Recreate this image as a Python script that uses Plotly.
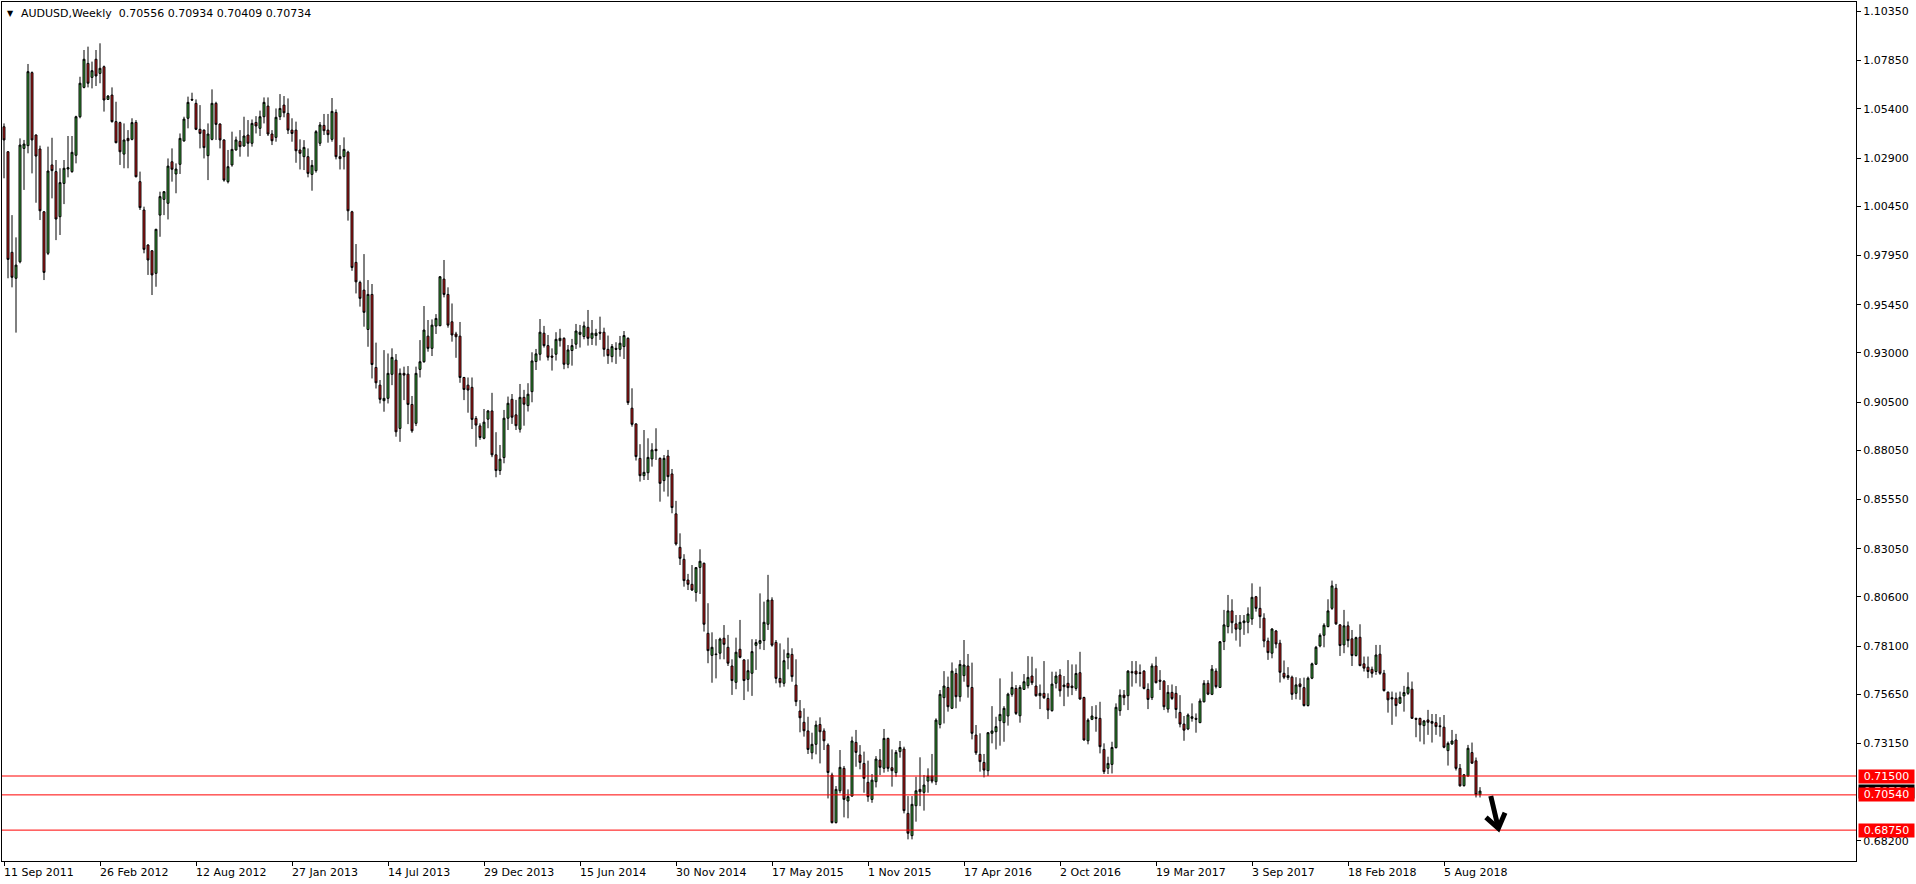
import plotly.graph_objects as go
import pandas as pd

# ---------------- data (AUDUSD weekly) ----------------
first_week = "2011-09-11"
opens = [1.0449,1.0322,0.9811,0.9679,0.9763,1.0339,1.0353,1.0724,1.0407,1.0336,
1.0017,0.9806,1.0255,1.0221,0.9992,1.0161,1.0234,1.0221,1.0304,1.0500,
1.0649,1.0771,1.0700,1.0792,1.0720,1.0754,1.0588,1.0610,1.0475,1.0470,
1.0310,1.0390,1.0385,1.0471,1.0170,1.0026,0.9848,0.9819,0.9704,1.0000,
1.0080,1.0060,1.0271,1.0209,1.0258,1.0377,1.0492,1.0588,1.0568,1.0436,
1.0432,1.0302,1.0385,1.0568,1.0463,1.0382,1.0170,1.0255,1.0331,1.0375,
1.0351,1.0407,1.0365,1.0471,1.0441,1.0500,1.0554,1.0412,1.0395,1.0500,
1.0559,1.0517,1.0432,1.0432,1.0331,1.0297,1.0297,1.0207,1.0226,1.0365,
1.0456,1.0432,1.0385,1.0522,1.0297,1.0297,1.0320,1.0017,0.9760,0.9658,
0.9619,0.9419,0.9597,0.9226,0.9136,0.9057,0.9069,0.9191,0.9263,0.8916,
0.9196,0.9192,0.9038,0.8942,0.9216,0.9255,0.9385,0.9323,0.9436,0.9438,
0.9675,0.9597,0.9458,0.9396,0.9385,0.9175,0.9136,0.9125,0.8967,0.8929,
0.8866,0.8963,0.9005,0.8782,0.8702,0.8768,0.8968,0.9064,0.8985,0.8912,
0.9074,0.9032,0.9103,0.9256,0.9293,0.9400,0.9337,0.9284,0.9293,0.9362,
0.9374,0.9242,0.9312,0.9344,0.9394,0.9383,0.9430,0.9374,0.9388,0.9405,
0.9405,0.9318,0.9281,0.9323,0.9318,0.9332,0.9374,0.9019,0.8939,0.8764,
0.8676,0.8691,0.8761,0.8810,0.8764,0.8651,0.8776,0.8685,0.8482,0.8312,
0.8251,0.8146,0.8124,0.8083,0.8210,0.8231,0.7875,0.7763,0.7770,0.7774,
0.7850,0.7804,0.7709,0.7626,0.7794,0.7740,0.7641,0.7672,0.7814,0.7824,
0.7838,0.7921,0.8044,0.7829,0.7646,0.7621,0.7751,0.7768,0.7612,0.7480,
0.7423,0.7379,0.7268,0.7311,0.7412,0.7379,0.7307,0.7155,0.6913,0.7075,
0.7189,0.7023,0.7048,0.7321,0.7257,0.7214,0.7118,0.7031,0.7121,0.7231,
0.7189,0.7341,0.7192,0.7167,0.7274,0.7287,0.6960,0.6847,0.6999,0.7082,
0.7067,0.7124,0.7150,0.7121,0.7412,0.7548,0.7600,0.7494,0.7671,0.7553,
0.7660,0.7709,0.7600,0.7358,0.7260,0.7219,0.7177,0.7367,0.7375,0.7431,
0.7421,0.7455,0.7565,0.7595,0.7456,0.7590,0.7609,0.7658,0.7607,0.7558,
0.7570,0.7544,0.7482,0.7621,0.7663,0.7604,0.7621,0.7607,0.7595,0.7675,
0.7549,0.7329,0.7438,0.7448,0.7443,0.7285,0.7189,0.7209,0.7294,0.7482,
0.7561,0.7558,0.7680,0.7683,0.7675,0.7683,0.7590,0.7548,0.7709,0.7637,
0.7632,0.7490,0.7575,0.7570,0.7473,0.7414,0.7389,0.7443,0.7443,0.7421,
0.7527,0.7621,0.7565,0.7683,0.7600,0.7833,0.7909,0.7989,0.7923,0.7896,
0.7929,0.7931,0.7948,0.8061,0.8002,0.7952,0.7836,0.7774,0.7887,0.7825,
0.7672,0.7650,0.7652,0.7570,0.7618,0.7599,0.7508,0.7647,0.7718,0.7811,
0.7865,0.7909,0.8002,0.8104,0.7918,0.7816,0.7913,0.7847,0.7762,0.7855,
0.7720,0.7703,0.7692,0.7681,0.7769,0.7672,0.7576,0.7548,0.7545,0.7520,
0.7557,0.7570,0.7591,0.7443,0.7443,0.7406,0.7435,0.7427,0.7421,0.7405,
0.7398,0.7279,0.7313,0.7333,0.7189,0.7101,0.7150,0.7269,0.7227,0.70556]

highs = [1.0466,1.0325,1.0000,0.9887,1.0390,1.0382,1.0768,1.0730,1.0410,1.0353,
1.0020,1.0348,1.0393,1.0280,1.0238,1.0280,1.0402,1.0402,1.0505,1.0703,
1.0839,1.0856,1.0780,1.0839,1.0873,1.0760,1.0610,1.0649,1.0576,1.0475,
1.0466,1.0432,1.0492,1.0483,1.0221,1.0043,0.9852,0.9822,0.9930,1.0119,
1.0122,1.0288,1.0339,1.0263,1.0415,1.0500,1.0602,1.0622,1.0588,1.0559,
1.0435,1.0466,1.0639,1.0576,1.0466,1.0385,1.0331,1.0424,1.0399,1.0432,
1.0500,1.0483,1.0486,1.0503,1.0531,1.0598,1.0598,1.0432,1.0542,1.0615,
1.0605,1.0593,1.0492,1.0475,1.0385,1.0381,1.0339,1.0280,1.0432,1.0473,
1.0514,1.0514,1.0595,1.0537,1.0356,1.0395,1.0327,1.0022,0.9853,0.9667,
0.9802,0.9670,0.9650,0.9352,0.9162,0.9314,0.9297,0.9323,0.9294,0.9221,
0.9230,0.9233,0.9081,0.9230,0.9365,0.9538,0.9467,0.9470,0.9497,0.9690,
0.9772,0.9633,0.9551,0.9407,0.9457,0.9178,0.9175,0.9175,0.8979,0.8942,
0.9015,0.9010,0.9097,0.8897,0.8832,0.9010,0.9078,0.9091,0.9061,0.9142,
0.9112,0.9146,0.9303,0.9320,0.9472,0.9437,0.9391,0.9323,0.9405,0.9422,
0.9379,0.9340,0.9371,0.9447,0.9442,0.9459,0.9518,0.9467,0.9422,0.9484,
0.9428,0.9388,0.9345,0.9354,0.9386,0.9411,0.9379,0.9120,0.8942,0.8836,
0.8908,0.8866,0.8841,0.8917,0.8769,0.8781,0.8807,0.8710,0.8548,0.8383,
0.8277,0.8177,0.8222,0.8210,0.8302,0.8234,0.8028,0.7880,0.7845,0.7853,
0.7917,0.7867,0.7743,0.7853,0.7943,0.7743,0.7743,0.7845,0.7845,0.8078,
0.8036,0.8172,0.8058,0.7841,0.7824,0.7793,0.7853,0.7799,0.7743,0.7536,
0.7494,0.7451,0.7370,0.7431,0.7448,0.7392,0.7316,0.7167,0.7099,0.7282,
0.7201,0.7082,0.7350,0.7384,0.7307,0.7274,0.7228,0.7160,0.7251,0.7287,
0.7389,0.7345,0.7285,0.7282,0.7328,0.7299,0.7048,0.7048,0.7146,0.7245,
0.7155,0.7189,0.7262,0.7443,0.7587,0.7683,0.7655,0.7727,0.7697,0.7739,
0.7841,0.7770,0.7726,0.7409,0.7367,0.7262,0.7372,0.7505,0.7451,0.7646,
0.7505,0.7573,0.7680,0.7612,0.7612,0.7668,0.7759,0.7756,0.7697,0.7615,
0.7734,0.7570,0.7680,0.7680,0.7693,0.7658,0.7739,0.7717,0.7717,0.7781,
0.7553,0.7443,0.7505,0.7510,0.7527,0.7316,0.7248,0.7324,0.7519,0.7590,
0.7587,0.7688,0.7734,0.7734,0.7717,0.7688,0.7621,0.7722,0.7756,0.7688,
0.7637,0.7612,0.7615,0.7607,0.7561,0.7455,0.7468,0.7519,0.7468,0.7544,
0.7637,0.7637,0.7714,0.7697,0.7836,0.7994,0.8070,0.8048,0.7968,0.7968,
0.7968,0.8007,0.8129,0.8065,0.8112,0.7977,0.7853,0.7901,0.7892,0.7842,
0.7737,0.7703,0.7660,0.7652,0.7647,0.7650,0.7655,0.7726,0.7811,0.7875,
0.7926,0.8048,0.8143,0.8126,0.7921,0.7994,0.7935,0.7892,0.7858,0.7921,
0.7757,0.7757,0.7706,0.7816,0.7816,0.7689,0.7579,0.7579,0.7574,0.7579,
0.7608,0.7677,0.7630,0.7446,0.7446,0.7435,0.7486,0.7465,0.7465,0.7449,
0.7460,0.7325,0.7384,0.7364,0.7211,0.7160,0.7308,0.7320,0.7244,0.70934]

lows = [1.0187,0.9679,0.9633,0.9403,0.9755,1.0128,1.0314,1.0212,1.0063,0.9975,
0.9670,0.9797,1.0085,0.9873,0.9899,1.0056,1.0192,1.0215,1.0263,1.0492,
1.0644,1.0649,1.0644,1.0656,1.0670,1.0526,1.0585,1.0470,1.0365,1.0255,
1.0238,1.0238,1.0380,1.0192,1.0026,0.9806,0.9696,0.9594,0.9636,0.9890,
1.0000,0.9978,1.0170,1.0111,1.0209,1.0373,1.0441,1.0581,1.0432,1.0339,
1.0288,1.0178,1.0380,1.0382,1.0339,1.0170,1.0161,1.0246,1.0328,1.0297,
1.0348,1.0297,1.0348,1.0415,1.0402,1.0466,1.0402,1.0356,1.0373,1.0483,
1.0497,1.0412,1.0373,1.0266,1.0232,1.0229,1.0192,1.0124,1.0216,1.0351,
1.0407,1.0368,1.0373,1.0283,1.0232,1.0232,0.9972,0.9717,0.9602,0.9535,
0.9433,0.9331,0.9170,0.9119,0.9043,0.9001,0.9043,0.9136,0.8874,0.8848,
0.9060,0.8938,0.8894,0.8928,0.9175,0.9250,0.9306,0.9284,0.9396,0.9436,
0.9582,0.9428,0.9357,0.9275,0.9148,0.9060,0.8996,0.8913,0.8823,0.8858,
0.8861,0.8917,0.8770,0.8668,0.8680,0.8739,0.8908,0.8939,0.8908,0.8895,
0.8930,0.9002,0.9049,0.9213,0.9261,0.9327,0.9261,0.9210,0.9261,0.9332,
0.9217,0.9222,0.9235,0.9320,0.9327,0.9369,0.9337,0.9340,0.9337,0.9366,
0.9281,0.9244,0.9252,0.9244,0.9281,0.9269,0.9035,0.8925,0.8753,0.8646,
0.8654,0.8654,0.8722,0.8756,0.8544,0.8595,0.8570,0.8485,0.8321,0.8222,
0.8112,0.8095,0.8090,0.8036,0.8075,0.7884,0.7723,0.7624,0.7646,0.7743,
0.7743,0.7709,0.7562,0.7591,0.7748,0.7536,0.7579,0.7557,0.7689,0.7794,
0.7790,0.7892,0.7807,0.7621,0.7600,0.7604,0.7692,0.7629,0.7505,0.7372,
0.7350,0.7262,0.7235,0.7260,0.7214,0.7282,0.7036,0.6909,0.6909,0.7062,
0.6940,0.6935,0.7045,0.7197,0.7184,0.7065,0.7019,0.7014,0.7092,0.7155,
0.7167,0.7172,0.7096,0.7146,0.7243,0.6960,0.6828,0.6828,0.6918,0.6997,
0.6974,0.7065,0.7113,0.7104,0.7392,0.7417,0.7477,0.7490,0.7494,0.7528,
0.7629,0.7548,0.7336,0.7257,0.7172,0.7143,0.7150,0.7316,0.7285,0.7304,
0.7324,0.7406,0.7553,0.7460,0.7421,0.7587,0.7595,0.7612,0.7553,0.7490,
0.7541,0.7439,0.7477,0.7595,0.7553,0.7505,0.7553,0.7561,0.7583,0.7538,
0.7330,0.7311,0.7434,0.7375,0.7265,0.7160,0.7160,0.7163,0.7290,0.7456,
0.7510,0.7485,0.7604,0.7621,0.7604,0.7590,0.7490,0.7536,0.7621,0.7587,
0.7485,0.7472,0.7536,0.7443,0.7397,0.7329,0.7383,0.7426,0.7370,0.7419,
0.7524,0.7561,0.7561,0.7595,0.7597,0.7790,0.7875,0.7875,0.7838,0.7807,
0.7867,0.7875,0.7918,0.7985,0.7901,0.7804,0.7740,0.7748,0.7799,0.7625,
0.7642,0.7638,0.7537,0.7540,0.7537,0.7503,0.7503,0.7642,0.7714,0.7804,
0.7804,0.7906,0.7994,0.7918,0.7760,0.7774,0.7804,0.7709,0.7757,0.7708,
0.7681,0.7647,0.7650,0.7664,0.7664,0.7579,0.7472,0.7410,0.7452,0.7516,
0.7477,0.7562,0.7440,0.7347,0.7325,0.7311,0.7359,0.7320,0.7359,0.7350,
0.7291,0.7203,0.7308,0.7178,0.7096,0.7096,0.7147,0.7213,0.7041,0.70409]

closes = [1.0382,0.9775,0.9684,0.9746,1.0356,1.0361,1.0729,1.0382,1.0300,1.0022,
0.9709,1.0224,1.0226,0.9980,1.0165,1.0238,1.0241,1.0319,1.0500,1.0670,
1.0792,1.0670,1.0734,1.0707,1.0746,1.0585,1.0605,1.0475,1.0368,1.0322,
1.0382,1.0378,1.0470,1.0195,1.0038,0.9826,0.9772,0.9696,0.9928,1.0094,
1.0119,1.0249,1.0233,1.0234,1.0390,1.0488,1.0573,1.0585,1.0436,1.0415,
1.0343,1.0412,1.0568,1.0461,1.0382,1.0178,1.0246,1.0334,1.0382,1.0348,
1.0402,1.0365,1.0466,1.0453,1.0500,1.0573,1.0412,1.0378,1.0497,1.0542,
1.0520,1.0432,1.0415,1.0327,1.0314,1.0344,1.0212,1.0253,1.0424,1.0458,
1.0429,1.0409,1.0527,1.0297,1.0287,1.0334,1.0022,0.9734,0.9661,0.9577,
0.9506,0.9597,0.9241,0.9148,0.9064,0.9069,0.9196,0.9277,0.8899,0.9196,
0.9187,0.9038,0.8904,0.9196,0.9255,0.9416,0.9323,0.9441,0.9475,0.9687,
0.9597,0.9441,0.9391,0.9382,0.9175,0.9114,0.9111,0.8962,0.8933,0.8870,
0.8948,0.9005,0.8782,0.8702,0.8760,0.8968,0.9044,0.8973,0.8930,0.9074,
0.9039,0.9090,0.9259,0.9295,0.9405,0.9337,0.9278,0.9278,0.9369,0.9374,
0.9242,0.9315,0.9337,0.9411,0.9405,0.9437,0.9374,0.9400,0.9400,0.9400,
0.9318,0.9286,0.9332,0.9318,0.9349,0.9388,0.9047,0.8937,0.8773,0.8676,
0.8693,0.8769,0.8807,0.8803,0.8637,0.8764,0.8671,0.8514,0.8329,0.8256,
0.8143,0.8124,0.8095,0.8209,0.8241,0.7921,0.7787,0.7804,0.7767,0.7846,
0.7819,0.7723,0.7635,0.7779,0.7753,0.7635,0.7685,0.7782,0.7828,0.7838,
0.7931,0.8044,0.7815,0.7646,0.7624,0.7736,0.7773,0.7655,0.7528,0.7446,
0.7380,0.7285,0.7311,0.7409,0.7375,0.7329,0.7168,0.6913,0.7082,0.7194,
0.7031,0.7045,0.7328,0.7270,0.7219,0.7138,0.7045,0.7129,0.7236,0.7194,
0.7341,0.7189,0.7177,0.7270,0.7295,0.6974,0.6859,0.7006,0.7075,0.7070,
0.7104,0.7150,0.7124,0.7434,0.7565,0.7607,0.7502,0.7683,0.7553,0.7717,
0.7714,0.7604,0.7367,0.7268,0.7223,0.7180,0.7370,0.7379,0.7401,0.7463,
0.7494,0.7566,0.7600,0.7468,0.7600,0.7629,0.7651,0.7624,0.7558,0.7570,
0.7548,0.7485,0.7617,0.7658,0.7583,0.7612,0.7599,0.7599,0.7671,0.7541,
0.7333,0.7434,0.7455,0.7443,0.7299,0.7172,0.7214,0.7295,0.7499,0.7561,
0.7548,0.7683,0.7675,0.7668,0.7671,0.7595,0.7539,0.7709,0.7624,0.7631,
0.7502,0.7575,0.7544,0.7488,0.7414,0.7383,0.7460,0.7451,0.7438,0.7531,
0.7621,0.7566,0.7693,0.7604,0.7832,0.7918,0.7989,0.7929,0.7896,0.7931,
0.7938,0.7973,0.8058,0.8002,0.7960,0.7836,0.7777,0.7897,0.7821,0.7677,
0.7652,0.7660,0.7565,0.7613,0.7604,0.7508,0.7647,0.7720,0.7804,0.7865,
0.7916,0.7989,0.8116,0.7923,0.7813,0.7913,0.7838,0.7762,0.7853,0.7711,
0.7698,0.7681,0.7672,0.7765,0.7672,0.7584,0.7537,0.7542,0.7508,0.7550,
0.7574,0.7601,0.7443,0.7438,0.7410,0.7430,0.7423,0.7418,0.7401,0.7401,
0.7296,0.7316,0.7328,0.7189,0.7100,0.7156,0.7291,0.7215,0.7055,0.70734]

time_labels = ["11 Sep 2011", "26 Feb 2012", "12 Aug 2012", "27 Jan 2013", "14 Jul 2013",
               "29 Dec 2013", "15 Jun 2014", "30 Nov 2014", "17 May 2015", "1 Nov 2015",
               "17 Apr 2016", "2 Oct 2016", "19 Mar 2017", "3 Sep 2017", "18 Feb 2018",
               "5 Aug 2018"]
price_labels = [1.10350, 1.07850, 1.05400, 1.02900, 1.00450, 0.97950, 0.95450, 0.93000,
                0.90500, 0.88050, 0.85550, 0.83050, 0.80600, 0.78100, 0.75650, 0.73150,
                0.68200]
levels = [0.71500, 0.70540, 0.68750]
last_price = 0.70734
title_text = "AUDUSD,Weekly  0.70556 0.70934 0.70409 0.70734"

# ---------------- figure ----------------
dates = pd.date_range(first_week, periods=len(opens), freq="7D")
tick_dates = [pd.Timestamp(pd.to_datetime(t, format="%d %b %Y")) for t in time_labels]
week = pd.Timedelta(days=7)
x_range = [dates[0] - week / 2, dates[0] + 463 * week]
y_range = [0.67181, 1.10829]

FONT = "DejaVu Sans"
fig = go.Figure()
fig.add_trace(go.Candlestick(
    x=dates, open=opens, high=highs, low=lows, close=closes,
    increasing=dict(line=dict(color="black", width=1), fillcolor="#3caf3c"),
    decreasing=dict(line=dict(color="black", width=1), fillcolor="#d81c1c"),
    whiskerwidth=0, hoverinfo="skip", showlegend=False,
))

shapes = []
for lv in levels:
    shapes.append(dict(type="line", xref="paper", x0=0, x1=1, yref="y", y0=lv, y1=lv,
                       line=dict(color="#ff0000", width=1), layer="above"))
# hand drawn arrow (decoration, paper coordinates)
shapes.append(dict(type="path", xref="paper", yref="paper",
                   path="M 0.8030,0.0757 L 0.8071,0.0381",
                   line=dict(color="black", width=5)))
shapes.append(dict(type="path", xref="paper", yref="paper",
                   path="M 0.8004,0.0509 L 0.8071,0.0381 L 0.8107,0.0562",
                   line=dict(color="black", width=5)))

annotations = []
for lab, d in zip(time_labels, tick_dates):
    annotations.append(dict(x=d, xref="x", y=0, yref="paper", yanchor="top", xanchor="left",
                            yshift=-3, xshift=-2, text=lab, showarrow=False,
                            font=dict(family=FONT, size=11, color="black")))
# current price label (black), then red level labels on top
annotations.append(dict(x=1, xref="paper", xanchor="left", xshift=2, y=last_price, yref="y",
                        text=f"{last_price:.5f}", showarrow=False, bgcolor="black",
                        font=dict(family=FONT, size=11, color="white"),
                        width=55, height=13, borderpad=0))
for lv in levels:
    annotations.append(dict(x=1, xref="paper", xanchor="left", xshift=2, y=lv, yref="y",
                            text=f"{lv:.5f}", showarrow=False, bgcolor="#ff0000",
                            font=dict(family=FONT, size=11, color="white"),
                            width=55, height=13, borderpad=0))
# title
annotations.append(dict(x=0, xref="paper", y=1, yref="paper", xanchor="left", yanchor="top",
                        xshift=3, yshift=-5, text="▼", showarrow=False,
                        font=dict(family=FONT, size=8, color="black")))
annotations.append(dict(x=0, xref="paper", y=1, yref="paper", xanchor="left", yanchor="top",
                        xshift=17, yshift=-3, text=title_text, showarrow=False,
                        font=dict(family=FONT, size=11, color="#000000")))

fig.update_layout(
    width=1916, height=884,
    margin=dict(l=2, r=60, t=2, b=23, pad=0),
    paper_bgcolor="white", plot_bgcolor="white",
    showlegend=False,
    shapes=shapes, annotations=annotations,
    xaxis=dict(type="date", range=x_range, rangeslider=dict(visible=False),
               showgrid=False, zeroline=False, showline=True, mirror=True,
               linecolor="black", linewidth=1, ticks="outside", ticklen=4,
               tickcolor="black", tickvals=tick_dates, showticklabels=False),
    yaxis=dict(side="right", range=y_range, showgrid=False, zeroline=False,
               showline=True, mirror=True, linecolor="black", linewidth=1,
               ticks="outside", ticklen=4, tickcolor="black",
               tickvals=price_labels, ticktext=[f"{p:.5f}" for p in price_labels],
               tickfont=dict(family=FONT, size=11, color="black")),
)

fig.write_html("out.html", config={"displayModeBar": False},
               post_script="document.body.style.margin='0';document.body.style.overflow='hidden';")
